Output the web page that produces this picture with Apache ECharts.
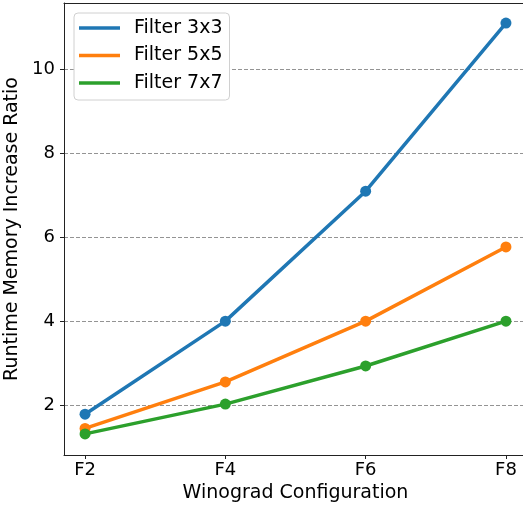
<!DOCTYPE html>
<html>
<head>
<meta charset="utf-8">
<script src="https://cdn.jsdelivr.net/npm/echarts@6/dist/echarts.min.js"></script>
<style>
  html, body { margin: 0; padding: 0; background: #fff; }
  #chart { width: 523px; height: 509px; }
</style>
</head>
<body>
<div id="chart"></div>
<script>
// Winograd tile size (F(m)) on the x axis
const configs = [2, 4, 6, 8];
const configLabels = ['F2', 'F4', 'F6', 'F8'];
const yTicks = [2, 4, 6, 8, 10];

// Runtime memory increase ratio per filter size
const filter3x3 = [1.78, 4.0, 7.1, 11.11];
const filter5x5 = [1.44, 2.55, 4.0, 5.77];
const filter7x7 = [1.31, 2.02, 2.93, 4.0];

const seriesNames = ['Filter 3x3', 'Filter 5x5', 'Filter 7x7'];
const seriesValues = [filter3x3, filter5x5, filter7x7];
const colors = ['#1f77b4', '#ff7f0e', '#2ca02c'];

const font = 'DejaVu Sans';
const spine = { color: '#222', width: 1 };

const chart = echarts.init(document.getElementById('chart'), null, { renderer: 'canvas' });

const series = seriesNames.map((name, i) => ({
  name,
  type: 'line',
  data: configs.map((x, j) => [x, seriesValues[i][j]]),
  symbol: 'circle',
  symbolSize: 11,
  showSymbol: true,
  lineStyle: { width: 3.5, color: colors[i] },
  itemStyle: { color: colors[i] },
  emphasis: { disabled: true },
  animation: false,
  z: 3 + i
}));

chart.setOption({
  animation: false,
  grid: {
    left: 64, top: 3, right: -4, bottom: 54,
    containLabel: false,
    outerBoundsMode: 'none'
  },
  xAxis: [{
    type: 'value',
    min: 1.7,
    max: 8.3,
    name: 'Winograd Configuration',
    nameLocation: 'middle',
    nameGap: 29,
    nameTextStyle: { fontFamily: font, fontSize: 19, color: '#000' },
    axisLine: { show: true, onZero: false, lineStyle: spine },
    axisTick: { show: true, customValues: configs, length: 4, lineStyle: spine },
    axisLabel: {
      customValues: configs,
      formatter: v => configLabels[configs.indexOf(v)],
      fontFamily: font, fontSize: 18, color: '#000', margin: 6
    },
    splitLine: { show: false }
  }, {
    type: 'value',
    position: 'top',
    min: 1.7,
    max: 8.3,
    axisLine: { show: true, onZero: false, lineStyle: spine },
    axisTick: { show: false },
    axisLabel: { show: false },
    splitLine: { show: false }
  }],
  yAxis: {
    type: 'value',
    min: 0.806,
    max: 11.59,
    name: 'Runtime Memory Increase Ratio',
    nameLocation: 'middle',
    nameGap: 31,
    nameTextStyle: { fontFamily: font, fontSize: 19, color: '#000' },
    axisLine: { show: true, onZero: false, lineStyle: spine },
    axisTick: { show: true, customValues: yTicks, length: 4, lineStyle: spine },
    axisLabel: {
      customValues: yTicks,
      fontFamily: font, fontSize: 18, color: '#000', margin: 9
    },
    splitLine: {
      show: true,
      customValues: yTicks,
      lineStyle: { color: '#888', type: [4, 2], width: 0.9 }
    }
  },
  legend: {
    left: 74,
    top: 13,
    orient: 'vertical',
    data: seriesNames,
    icon: 'rect',
    itemWidth: 41,
    itemHeight: 3.5,
    itemGap: 5.5,
    padding: [4, 7, 6, 5],
    backgroundColor: '#fff',
    borderColor: '#d0d0d0',
    borderWidth: 1,
    borderRadius: 4,
    selectedMode: false,
    textStyle: { fontFamily: font, fontSize: 19, color: '#000', lineHeight: 22, padding: [0, 0, 0, 9] }
  },
  series
});
</script>
</body>
</html>
